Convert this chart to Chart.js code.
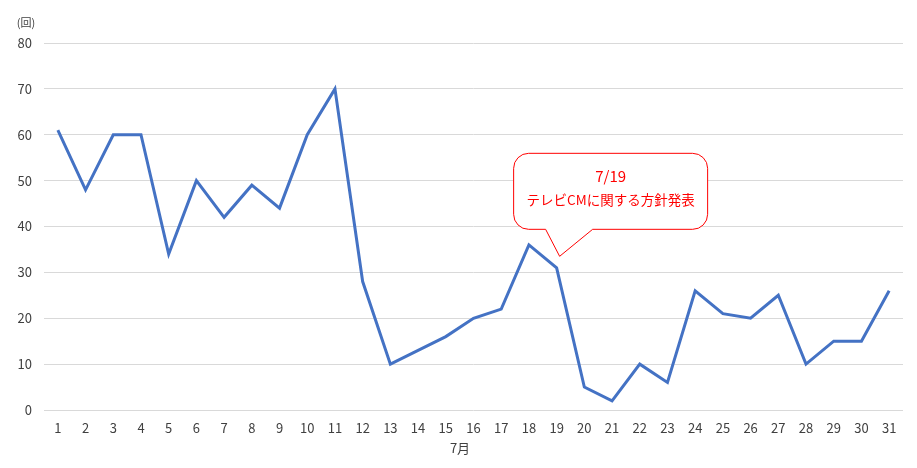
<!DOCTYPE html>
<html><head><meta charset="utf-8">
<script src="https://cdn.jsdelivr.net/npm/chart.js@4/dist/chart.umd.min.js"></script>
<style>html,body{margin:0;padding:0;background:#fff}#wrap{width:917px;height:468px}</style>
</head><body><div id="wrap"><canvas id="c" width="917" height="468"></canvas></div>
<script>
const categories = ["1","2","3","4","5","6","7","8","9","10","11","12","13","14","15","16","17","18","19","20","21","22","23","24","25","26","27","28","29","30","31"];
const counts = [61,48,60,60,34,50,42,49,44,60,70,28,10,13,16,20,22,36,31,5,2,10,6,26,21,20,25,10,15,15,26];
const yTicks = [0,10,20,30,40,50,60,70,80];
const unitLabel = "(回)";
const xTitle = "7月";
const calloutLines = ["7/19","テレビCMに関する方針発表"];
const calloutIndex = 18;
const calloutValue = 33.5;

const FONT = "'Noto Sans CJK JP', 'Noto Sans', sans-serif";

const extras = {
  id: 'extras',
  afterDraw(chart) {
    const ctx = chart.ctx;
    const xs = chart.scales.x, ys = chart.scales.y;
    ctx.save();
    ctx.fillStyle = '#404040';
    ctx.textAlign = 'center';
    ctx.textBaseline = 'middle';
    ctx.font = '11px ' + FONT;
    ctx.fillText(unitLabel, 26, 23);
    ctx.font = '13px ' + FONT;
    ctx.fillText(xTitle, 460, 448);
    // callout
    const tx = xs.getPixelForValue(calloutIndex) + 3;
    const ty = ys.getPixelForValue(calloutValue);
    const L = tx - 46, R = tx + 148, T = ty - 103, B = ty - 27, r = 15;
    const b1 = tx - 14, b2 = tx + 33;
    ctx.beginPath();
    ctx.moveTo(L + r, T);
    ctx.lineTo(R - r, T);
    ctx.arcTo(R, T, R, T + r, r);
    ctx.lineTo(R, B - r);
    ctx.arcTo(R, B, R - r, B, r);
    ctx.lineTo(b2, B);
    ctx.lineTo(tx, ty);
    ctx.lineTo(b1, B);
    ctx.lineTo(L + r, B);
    ctx.arcTo(L, B, L, B - r, r);
    ctx.lineTo(L, T + r);
    ctx.arcTo(L, T, L + r, T, r);
    ctx.closePath();
    ctx.fillStyle = '#ffffff';
    ctx.fill();
    ctx.strokeStyle = '#ff0000';
    ctx.lineWidth = 1;
    ctx.stroke();
    ctx.fillStyle = '#ff0000';
    const cx = (L + R) / 2;
    ctx.font = '15px ' + FONT;
    ctx.fillText(calloutLines[0], cx, T + 23);
    ctx.font = '13.5px ' + FONT;
    ctx.fillText(calloutLines[1], cx, T + 47);
    ctx.restore();
  }
};

new Chart(document.getElementById('c'), {
  type: 'line',
  data: {
    labels: categories,
    datasets: [{
      data: counts,
      borderColor: '#4472C4',
      borderWidth: 3,
      pointRadius: 0,
      tension: 0,
      fill: false
    }]
  },
  options: {
    responsive: false,
    animation: false,
    layout: { padding: { top: 43, right: 14, bottom: 0, left: 0 } },
    plugins: { legend: { display: false }, tooltip: { enabled: false } },
    scales: {
      x: {
        offset: true,
        grid: { display: false, drawTicks: false },
        border: { display: false },
        ticks: { color: '#404040', font: { family: FONT, size: 13 }, padding: 10, maxRotation: 0, autoSkip: false },
        afterFit(s) { s.height = 58; }
      },
      y: {
        min: 0, max: 80,
        afterBuildTicks(s) { s.ticks = yTicks.map(v => ({ value: v })); },
        grid: { color: '#d9d9d9', drawTicks: false, lineWidth: 1 },
        border: { display: false },
        ticks: { color: '#404040', font: { family: FONT, size: 13 }, padding: 12 },
        afterFit(s) { s.width = 44; }
      }
    }
  },
  plugins: [extras]
});
</script>
</body></html>
